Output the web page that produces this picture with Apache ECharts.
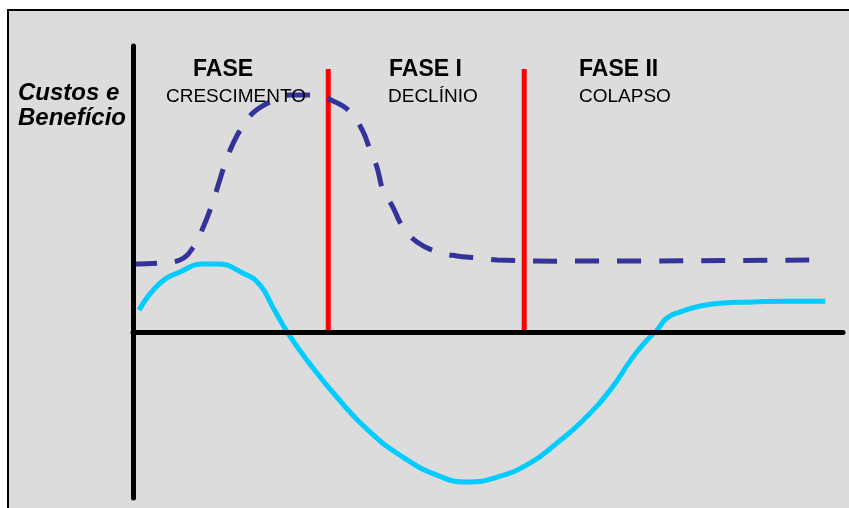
<!DOCTYPE html>
<html>
<head>
<meta charset="utf-8">
<script src="https://cdn.jsdelivr.net/npm/echarts@6/dist/echarts.min.js"></script>
<style>
html,body{margin:0;padding:0;background:#ffffff;}
#chart{width:849px;height:508px;}
</style>
</head>
<body>
<div id="chart"></div>
<script>
// Curve values (arbitrary units: x 0..100, y -58..100, 0 = horizontal axis)
const beneficioCurve = [
  [0, 23.8], [3.5, 24.1], [6.6, 25.2], [8.5, 29.7], [9.9, 36.7], [11.1, 44.4],
  [12.0, 51.4], [12.8, 57.7], [13.8, 64.3], [15.1, 70.6], [16.9, 76.6],
  [19.3, 80.4], [22.1, 82.9], [25.4, 82.9], [28.5, 80.4], [30.6, 76.9],
  [32.3, 70.6], [33.4, 63.6], [34.4, 57.3], [35.2, 49.7], [36.6, 43.7],
  [38.0, 36.7], [40.0, 31.5], [42.8, 28.0], [45.6, 26.6], [48.5, 25.9],
  [51.3, 25.2], [60.6, 24.8], [96.1, 25.2]
];
const custoCurve = [
  [0.85, 7.7], [3.8, 17.1], [6.6, 21.0], [9.9, 23.8], [11.8, 23.8],
  [15.5, 20.6], [17.9, 16.4], [19.7, 8.7], [21.8, -0.3], [24.5, -9.8],
  [28.7, -22.7], [33.4, -35.0], [38.0, -43.7], [42.8, -50.0], [47.0, -52.4],
  [51.3, -50.7], [55.9, -45.8], [59.7, -38.8], [63.4, -30.8], [67.2, -20.3],
  [70.3, -9.1], [72.4, -2.8], [73.8, 0.7], [75.2, 4.9], [77.0, 7.0],
  [79.9, 9.1], [82.7, 10.1], [87.3, 10.5], [92.1, 10.8], [97.5, 10.8]
];
const phaseBoundaries = [27.5, 55.1];
const phaseLineTop = 92;
const phaseTitles = ['FASE', 'FASE I', 'FASE II'];
const phaseNames = ['CRESCIMENTO', 'DECLÍNIO', 'COLAPSO'];
const axisTitle = ['Custos e', 'Benefício'];

const chart = echarts.init(document.getElementById('chart'));

const phaseTitleX = [193, 389, 579];
const phaseNameX = [166, 388, 579];

const graphics = [
  {type:'rect', z:-10, shape:{x:8, y:10, width:860, height:520},
   style:{fill:'#dcdcdc', stroke:'#000', lineWidth:2}, silent:true}
];
phaseTitles.forEach((t,i)=>{
  graphics.push({type:'text', z:10, style:{text:t, x:phaseTitleX[i], y:69.5,
    font:'bold 23px "Liberation Sans", Arial, sans-serif', fill:'#000',
    textAlign:'left', textVerticalAlign:'middle'}});
});
phaseNames.forEach((t,i)=>{
  graphics.push({type:'text', z:10, style:{text:t, x:phaseNameX[i], y:96.8,
    font:'19px "Liberation Sans", Arial, sans-serif', fill:'#000',
    textAlign:'left', textVerticalAlign:'middle'}});
});
axisTitle.forEach((t,i)=>{
  graphics.push({type:'text', z:10, style:{text:t, x:18, y:[93,118.5][i],
    font:'italic bold 24px "Liberation Sans", Arial, sans-serif', fill:'#000',
    textAlign:'left', textVerticalAlign:'middle'}});
});

const redSeries = phaseBoundaries.map(x=>({
  type:'line', data:[[x,0],[x,phaseLineTop]], symbol:'none', silent:true,
  lineStyle:{color:'#ff0000', width:5, cap:'butt'}, z:3
}));

chart.setOption({
  animation:false,
  backgroundColor:'#ffffff',
  graphic: graphics,
  grid:{left:133, top:46, width:710, height:452, containLabel:false},
  xAxis:{type:'value', min:0, max:100, z:5,
    axisLine:{show:true, onZero:true, lineStyle:{color:'#000', width:5}},
    axisTick:{show:false}, axisLabel:{show:false}, splitLine:{show:false}},
  yAxis:{type:'value', min:-58, max:100, z:5,
    axisLine:{show:true, onZero:false, lineStyle:{color:'#000', width:5}},
    axisTick:{show:false}, axisLabel:{show:false}, splitLine:{show:false}},
  series:[
    ...redSeries,
    {type:'line', data:beneficioCurve, symbol:'none', smooth:0.4, silent:true,
     lineStyle:{color:'#333399', width:5, type:[24,18], cap:'butt'}, z:4},
    {type:'line', data:custoCurve, symbol:'none', smooth:0.5, silent:true,
     lineStyle:{color:'#00ccff', width:5, cap:'butt'}, z:4}
  ]
});
</script>
</body>
</html>
